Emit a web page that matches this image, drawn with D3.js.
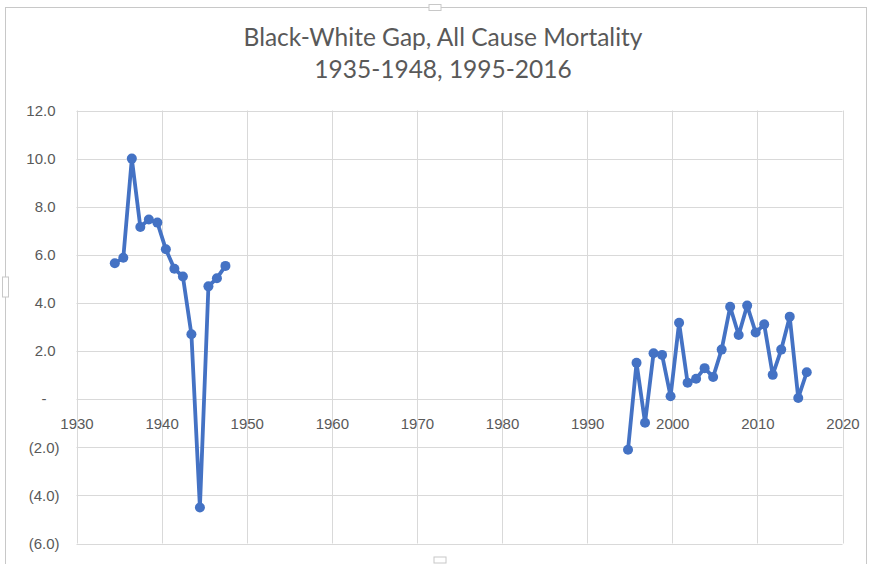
<!DOCTYPE html>
<html>
<head>
<meta charset="utf-8">
<script src="https://cdn.jsdelivr.net/npm/d3@7"></script>
<style>
  body { margin: 0; background: #fff; }
  svg { display: block; font-family: Lato, "Open Sans", sans-serif; }
</style>
</head>
<body>
<svg id="chart"></svg>
<script>
// title
const titleLines = ['Black-White Gap, All Cause Mortality', '1935-1948, 1995-2016']

// first run of years and gaps
const years1 = [1935, 1936, 1937, 1938, 1939, 1940, 1941, 1942, 1943, 1944, 1945, 1946, 1947, 1948]
const gap1 = [5.65, 5.88, 10.0, 7.16, 7.47, 7.34, 6.23, 5.42, 5.10, 2.70, -4.50, 4.69, 5.03, 5.54]

// second run
const years2 = [1995, 1996, 1997, 1998, 1999, 2000, 2001, 2002, 2003, 2004, 2005,
                2006, 2007, 2008, 2009, 2010, 2011, 2012, 2013, 2014, 2015, 2016]
const gap2 = [-2.10, 1.51, -0.98, 1.91, 1.84, 0.12, 3.18, 0.68, 0.85, 1.29, 0.92,
              2.06, 3.84, 2.67, 3.89, 2.77, 3.11, 1.01, 2.06, 3.43, 0.05, 1.12]

// axis ticks
const xTicks = [1930, 1940, 1950, 1960, 1970, 1980, 1990, 2000, 2010, 2020]
const yTicks = [-6, -4, -2, 0, 2, 4, 6, 8, 10, 12]

const width = 872
const height = 564
const margin = { top: 110.5, right: 29, bottom: 20.5, left: 76.5 }
const blue = '#4472c4'
const textGrey = '#595959'

const svg = d3.select('#chart')
    .attr('width', width)
    .attr('height', height)

// chart frame with the little selection handles
svg.append('rect')
    .attr('x', 5.5).attr('y', 7.5)
    .attr('width', 861).attr('height', 580)
    .attr('fill', 'none')
    .attr('stroke', '#c8c8c8')

const handles = [[435, 7.5, 12, 6], [5.5, 287, 6, 20], [440, 560, 12, 6]]
svg.selectAll('.handle')
    .data(handles)
    .join('rect')
    .attr('class', 'handle')
    .attr('x', d => d[0] - d[2] / 2)
    .attr('y', d => d[1] - d[3] / 2)
    .attr('width', d => d[2])
    .attr('height', d => d[3])
    .attr('fill', '#fff')
    .attr('stroke', '#c8c8c8')

// scales
const x = d3.scaleLinear()
    .domain([1930, 2020])
    .range([margin.left, width - margin.right - 0.5])

const y = d3.scaleLinear()
    .domain([-6, 12])
    .range([height - margin.bottom, margin.top])

// gridlines
svg.append('g')
    .selectAll('line')
    .data(yTicks)
    .join('line')
    .attr('x1', x(1930)).attr('x2', x(2020))
    .attr('y1', d => Math.round(y(d)) + 0.5)
    .attr('y2', d => Math.round(y(d)) + 0.5)
    .attr('stroke', '#d9d9d9')

svg.append('g')
    .selectAll('line')
    .data(xTicks)
    .join('line')
    .attr('x1', d => Math.round(x(d)) + 0.5)
    .attr('x2', d => Math.round(x(d)) + 0.5)
    .attr('y1', y(12)).attr('y2', y(-6))
    .attr('stroke', '#d9d9d9')

// y axis, accounting style labels
const fmt = d => d === 0 ? '-' : d < 0 ? `(${d3.format('.1f')(-d)})` : d3.format('.1f')(d)

const yAxis = svg.append('g')
    .attr('transform', `translate(${margin.left},0)`)
    .call(d3.axisLeft(y).tickValues(yTicks).tickFormat(fmt).tickSize(0).tickPadding(21))
yAxis.select('.domain').remove()
yAxis.selectAll('text')
    .attr('fill', textGrey)
    .style('font-size', '15px')
    .attr('dx', d => d < 0 ? 4 : d === 0 ? -9 : 0)

// x axis labels sit under the zero line
const xAxis = svg.append('g')
    .attr('transform', `translate(0,${y(0)})`)
    .call(d3.axisBottom(x).tickValues(xTicks).tickFormat(d3.format('d')).tickSize(0).tickPadding(19))
xAxis.select('.domain').remove()
xAxis.selectAll('text')
    .attr('fill', textGrey)
    .style('font-size', '15px')

// title
svg.append('g')
    .selectAll('text')
    .data(titleLines)
    .join('text')
    .attr('x', 443)
    .attr('y', (d, i) => 46 + i * 32)
    .attr('text-anchor', 'middle')
    .attr('fill', textGrey)
    .style('font-size', '24.5px')
    .text(d => d)

// series, plotted slightly left of the year as in the source
const series = [
    { years: years1, values: gap1, shift: -0.5 },
    { years: years2, values: gap2, shift: -0.2 }
]

const line = d3.line()
    .x(d => x(d.year))
    .y(d => y(d.value))

series.forEach(s => {
    const pts = s.years.map((yr, i) => ({ year: yr + s.shift, value: s.values[i] }))

    svg.append('path')
        .datum(pts)
        .attr('d', line)
        .attr('fill', 'none')
        .attr('stroke', blue)
        .attr('stroke-width', 3.8)
        .attr('stroke-linejoin', 'round')

    svg.append('g')
        .selectAll('circle')
        .data(pts)
        .join('circle')
        .attr('cx', d => x(d.year))
        .attr('cy', d => y(d.value))
        .attr('r', 5)
        .attr('fill', blue)
})
</script>
</body>
</html>
